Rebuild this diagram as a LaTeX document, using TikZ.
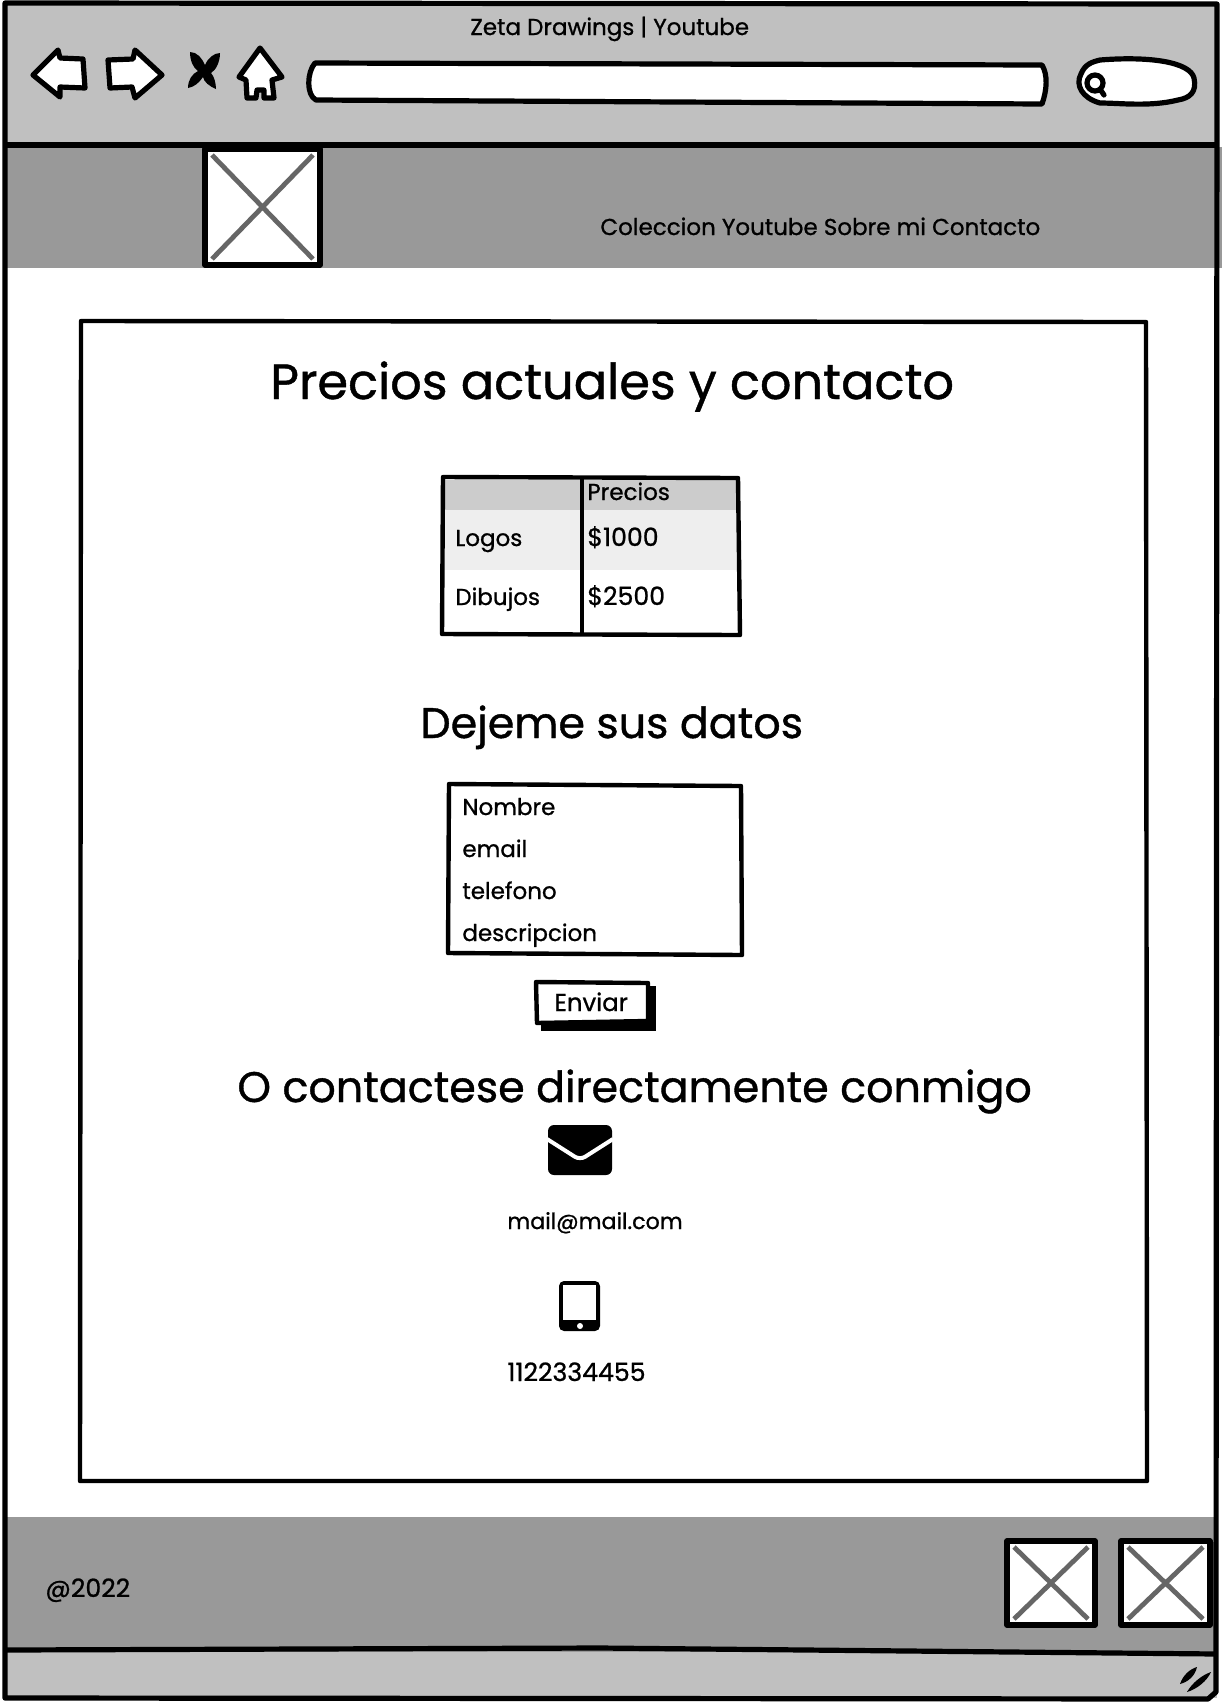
\documentclass[tikz,border=0pt]{standalone}
\usepackage{xcolor}
\usepackage{fontspec}
\setmainfont{Poppins}
\newfontfamily\sketchfont{Poppins}[FakeBold=0.9]
\usetikzlibrary{positioning,calc}
\definecolor{barGray}{HTML}{C0C0C0}
\definecolor{bandGray}{HTML}{999999}
\definecolor{headGray}{HTML}{CCCCCC}
\definecolor{rowGray}{HTML}{EEEEEE}
\definecolor{crossGray}{HTML}{666666}
\tikzset{
  sketch/.style={draw=black,line width=2.6pt,line join=round},
  thinsketch/.style={draw=black,line width=2.2pt,line join=round},
  lbl/.style={anchor=base west,inner sep=0pt,font=\fontsize{11.5}{13}\sketchfont},
  numlbl/.style={anchor=base west,inner sep=0pt,font=\fontsize{12.6}{14}\sketchfont},
  hone/.style={anchor=base west,inner sep=0pt,font=\fontsize{24.7}{28}\sketchfont},
  htwo/.style={anchor=base west,inner sep=0pt,font=\fontsize{21.4}{25}\sketchfont},
}
\begin{document}
\begin{tikzpicture}[x=0.5pt,y=-0.5pt]
  \useasboundingbox (0,0) rectangle (1222,1704);
  % bars and bands
  \fill[barGray] (4,4) rectangle (1218,146);
  \fill[bandGray] (6,147) rectangle (1222,268);
  \fill[bandGray] (6,1517) rectangle (1217,1652);
  \fill[barGray] (6,1652) rectangle (1217,1698);
  \draw[sketch] (5,3) -- (1217,4) -- (1216,1692) -- (1208,1699) -- (5,1698) -- cycle;
  \draw[sketch] (5,145) -- (1217,145);
  \draw[sketch] (5,1650) -- (600,1648) -- (1217,1654);
  % toolbar
  \draw[sketch,fill=white] (33,75) -- (58,50) -- (60,58) -- (83,59) -- (85,88) -- (60,87) -- (60,97) -- cycle;
  \draw[sketch,fill=white] (108,60) -- (133,59) -- (135,50) -- (162,75) -- (135,98) -- (132,87) -- (110,88) -- cycle;
  \fill (190,52) .. controls (197,52) and (202,58) .. (205,65) .. controls (208,58) and (214,53) .. (220,53) .. controls (220,62) and (216,70) .. (211,73) .. controls (214,76) and (216,83) .. (216,89) .. controls (209,86) and (204,82) .. (203,77) .. controls (199,83) and (194,87) .. (188,88) .. controls (188,80) and (192,74) .. (198,71) .. controls (193,68) and (190,60) .. cycle;
  \draw[sketch,fill=white] (260,48) -- (282,77) -- (272,80) -- (274,98) -- (264,98) -- (264,90) -- (257,90) -- (256,98) -- (247,98) -- (246,80) -- (239,77) -- cycle;
  \draw[sketch,fill=white] (315,63) -- (1042,65) .. controls (1048,75) and (1047,90) .. (1042,104) -- (316,100) .. controls (306,95) and (307,72) .. cycle;
  \draw[sketch,fill=white] (1100,60) .. controls (1150,56) and (1190,62) .. (1194,78) .. controls (1197,92) and (1190,98) .. (1178,100) .. controls (1150,107) and (1120,103) .. (1100,103) .. controls (1082,98) and (1075,85) .. (1081,74) .. controls (1085,64) and (1092,62) .. cycle;
  \draw[sketch,line cap=round] (1095,83) circle (8) (1100,89) -- (1104,95);
  \node[lbl] (pagetitle) at (470,35) {Zeta Drawings | Youtube};
  % header and footer pictures
  \foreach \xa/\ya/\xb/\yb in {205/149/320/265,1007/1541/1095/1625,1121/1541/1210/1625} {
    \draw[sketch,fill=white] (\xa,\ya) rectangle (\xb,\yb);
    \draw[line width=2.4pt,crossGray] (\xa+7,\ya+6) -- (\xb-7,\yb-6) (\xa+7,\yb-6) -- (\xb-7,\ya+6);
  }
  \node[lbl] (navlinks) at (600,235) {Coleccion Youtube Sobre mi Contacto};
  % content
  \draw[thinsketch] (81,321) -- (1146,322) -- (1147,1481) -- (80,1481) -- cycle;
  \node[hone] (maintitle) at (270,399) {Precios actuales y contacto};
  % table
  \fill[headGray] (444,480) rectangle (738,510);
  \fill[rowGray] (444,510) rectangle (738,570);
  \draw[thinsketch] (443,477) -- (738,478) -- (740,635) -- (442,634) -- cycle;
  \draw[thinsketch] (582,477) -- (582,636);
  \foreach \n/\t/\x/\y in {precios/Precios/587/500,logos/Logos/455/546,dibujos/Dibujos/455/605}
    \node[lbl] (\n) at (\x,\y) {\t};
  \foreach \n/\t/\y in {mil/\$1000/546,dosmil/\$2500/605}
    \node[numlbl] (\n) at (587,\y) {\t};
  \node[htwo] (datos) at (420,738) {Dejeme sus datos};
  % form
  \draw[thinsketch] (449,784) -- (741,786) -- (742,955) -- (448,953) -- cycle;
  \foreach \n/\t/\y in {nombre/Nombre/815,email/email/857,telefono/telefono/899,descripcion/descripcion/941}
    \node[lbl] (\n) at (462,\y) {\t};
  \fill (541,1000) rectangle (656,1031);
  \fill (645,986) rectangle (656,1031);
  \draw[thinsketch,fill=white] (536,982) -- (648,983) -- (648,1021) -- (537,1023) -- cycle;
  \node[lbl,font=\fontsize{12.2}{14}\sketchfont] (enviar) at (554,1011) {Enviar};
  \node[htwo] (directo) at (237,1102) {O contactese directamente conmigo};
  % contact icons
  \fill[rounded corners=3pt] (548,1125) rectangle (612,1175);
  \draw[white,line width=2pt,rounded corners=3pt] (547,1139) -- (580,1160) -- (613,1139);
  \node[lbl,font=\fontsize{11.1}{13}\sketchfont] (mail) at (507,1229) {mail@mail.com};
  \fill[rounded corners=2.5pt] (559,1281) rectangle (600,1331);
  \fill[white] (563,1285) rectangle (596,1320);
  \fill[white] (580,1326) circle (3);
  \node[numlbl] (phone) at (507,1381) {1122334455};
  \node[numlbl] (year) at (45,1597) {@2022};
  % resize grip
  \fill (1180,1684) .. controls (1183,1675) and (1190,1669) .. (1197,1667) .. controls (1195,1676) and (1188,1682) .. cycle;
  \fill (1187,1692) .. controls (1192,1683) and (1202,1675) .. (1211,1672) .. controls (1207,1681) and (1197,1689) .. cycle;
\end{tikzpicture}
\end{document}
